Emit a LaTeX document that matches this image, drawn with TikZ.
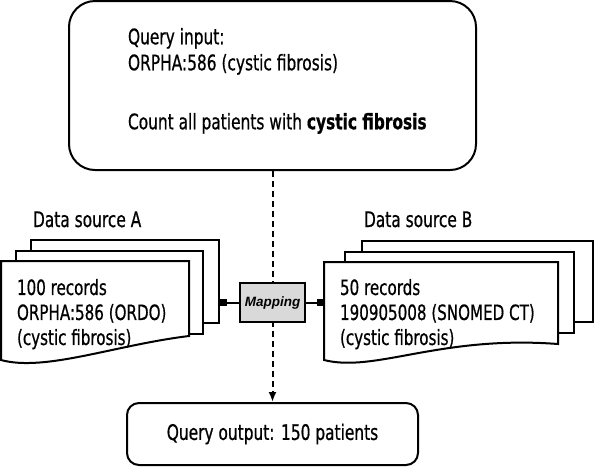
\documentclass[tikz,border=0pt]{standalone}
\usepackage{fontspec}
\setmainfont{DejaVu Sans}[FakeStretch=0.72, FakeBold=0.6]
\newfontfamily\mapfont{Liberation Sans}
\usetikzlibrary{arrows.meta}
\usetikzlibrary{positioning}

\begin{document}
\begin{tikzpicture}
    [x=1pt, y=-1pt, line width=2pt,
     every node/.style={font=\fontsize{21.4}{26}\selectfont},
     roundbox/.style={draw, rounded corners=#1},
     sheet/.style={draw, fill=white, inner sep=0pt},
     doctext/.style={anchor=north west, align=left, inner xsep=15pt, inner ysep=0pt,
       font=\fontsize{21}{25}\selectfont},
     link/.style={-{Square[length=7pt,width=7pt]}}]
    \useasboundingbox (0, 0) rectangle (596, 467);

    \node (query) [roundbox=26pt, minimum width=407pt, minimum height=169pt] at (272.5, 85.5) {};
    \node (querytext) [anchor=north west, align=left, inner sep=0pt] at (127, 27) {
      Query input:\\
      ORPHA:586 (cystic fibrosis)\\[33pt]
      Count all patients with \textbf{cystic fibrosis}
    };
    \node (output) [roundbox=12pt, minimum width=291pt, minimum height=62pt] at (272.5, 434) {
      Query output: 150 patients
    };
    \draw [dash pattern=on 6pt off 4pt, -{Latex[length=10pt, width=8pt]}] (query) -- (output);

    \node (labelA) [anchor=base west, inner sep=0pt] at (32, 227) {Data source A};
    \node (labelB) [anchor=base west, inner sep=0pt] at (363, 227) {Data source B};

    % records of source A
    \node (backA) [sheet, minimum width=188pt, minimum height=83pt] at (125, 281.5) {};
    \node (midA) [sheet, minimum width=187pt, minimum height=83pt] at (109.5, 292.5) {};
    \draw [fill=white] (189, 336) -- (189, 261) -- (1, 261) -- (1, 360)
      .. controls (45, 372) and (115, 345) .. (189, 336) -- cycle;
    \node (docA) [doctext] at (1, 278) {
      100 records\\
      ORPHA:586 (ORDO)\\
      (cystic fibrosis)
    };

    % records of source B
    \node (backB) [sheet, minimum width=231pt, minimum height=81pt] at (477.5, 281.5) {};
    \node (midB) [sheet, minimum width=229pt, minimum height=81pt] at (459.5, 292.5) {};
    \draw [fill=white] (558, 344) -- (558, 262) -- (324, 262) -- (324, 360)
      .. controls (375, 373) and (440, 335) .. (558, 344) -- cycle;
    \node (docB) [doctext] at (324, 278) {
      50 records\\
      190905008 (SNOMED CT)\\
      (cystic fibrosis)
    };

    \node (mapping) [draw, fill=gray!30, minimum width=65pt, minimum height=39pt,
      font=\mapfont\bfseries\itshape\fontsize{13.5}{15}\selectfont] at (272.5, 302.5) {Mapping};
    \draw [link] (mapping.west) -- (mapping.west -| backA.east);
    \draw [link] (mapping.east) -- (mapping.east -| docB.west);
  \end{tikzpicture}
\end{document}
